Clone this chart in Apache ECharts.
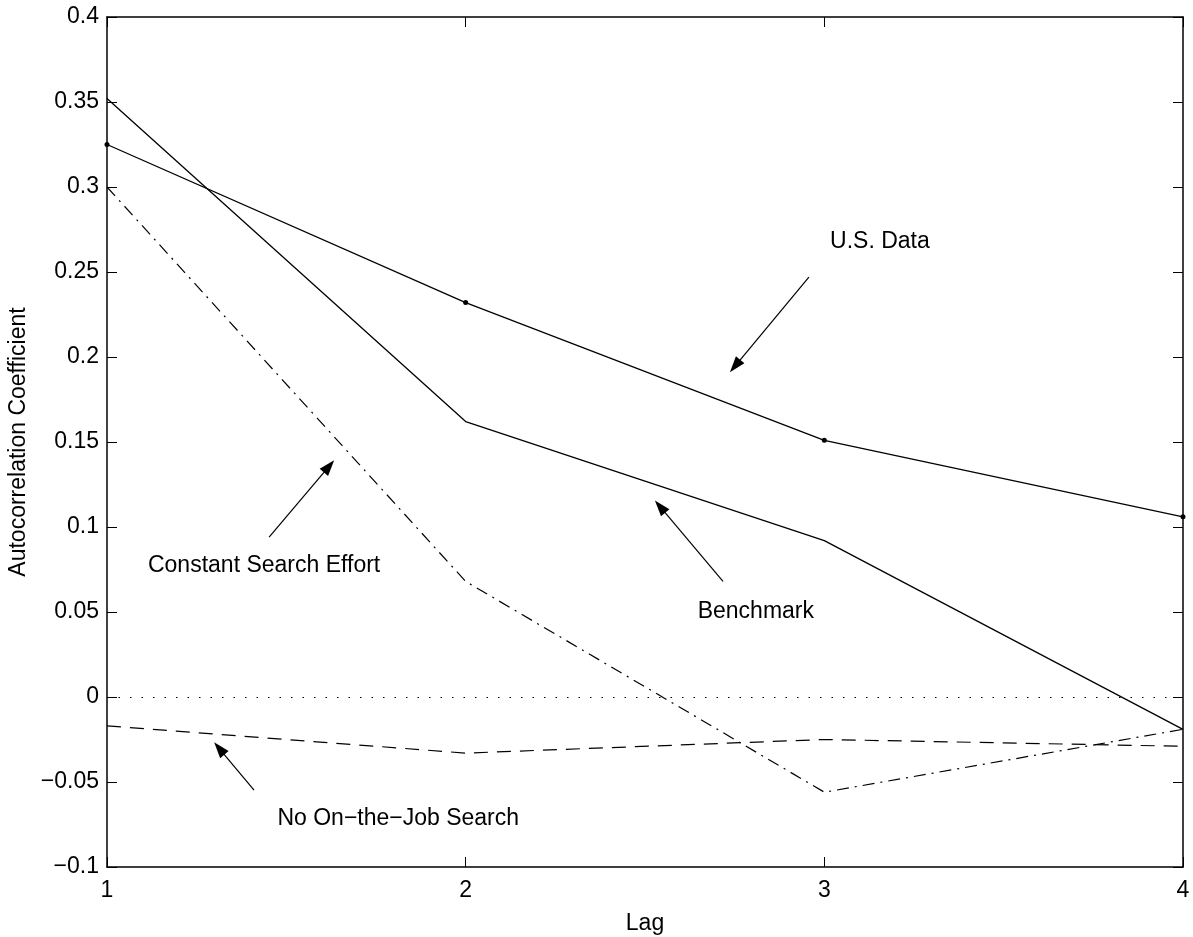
<!DOCTYPE html>
<html>
<head>
<meta charset="utf-8">
<script src="https://cdn.jsdelivr.net/npm/echarts@6/dist/echarts.min.js"></script>
<style>html,body{margin:0;padding:0;background:#fff;}#c{width:1193px;height:937px;}</style>
</head>
<body>
<div id="c"></div>
<script>
// ---- data ----
var lags = [1, 2, 3, 4];
var usData = [0.325, 0.232, 0.151, 0.106];
var benchmark = [0.352, 0.162, 0.092, -0.019];
var constantSearch = [0.300, 0.068, -0.056, -0.019];
var noOJS = [-0.017, -0.033, -0.025, -0.029];
var yTicks = [-0.1, -0.05, 0, 0.05, 0.1, 0.15, 0.2, 0.25, 0.3, 0.35, 0.4];

// annotation texts [lag, value, text]
var labelTexts = [
  [3.155, 0.268, 'U.S. Data'],
  [2.809, 0.050, 'Benchmark'],
  [1.438, 0.0775, 'Constant Search Effort'],
  [1.812, -0.0714, 'No On\u2212the\u2212Job Search']
];
// arrows [[tailLag, tailVal], [tipLag, tipVal]]
var arrows = [
  [[2.957, 0.247], [2.751, 0.1947]],
  [[2.7175, 0.068], [2.542, 0.112]],
  [[1.452, 0.094], [1.619, 0.1357]],
  [[1.41, -0.0548], [1.313, -0.0303]]
];

function pairs(ys) { return lags.map(function (x, i) { return [x, ys[i]]; }); }
var FONT = 'Liberation Sans, Arial, Helvetica, sans-serif';
var FS = 23;

var chart = echarts.init(document.getElementById('c'), null, {renderer: 'canvas'});
var axisLine = {show: true, onZero: false, lineStyle: {color: '#000', width: 1.5}};
var tick = {show: true, inside: true, length: 10, lineStyle: {color: '#000', width: 1}};

chart.setOption({
  animation: false,
  backgroundColor: '#fff',
  textStyle: {fontFamily: FONT},
  grid: {left: 107, right: 10, top: 17, bottom: 70, containLabel: false, outerBoundsMode: 'none'},
  xAxis: [{
    type: 'value', min: 1, max: 4, interval: 1, position: 'bottom',
    axisLine: axisLine, axisTick: tick, splitLine: {show: false},
    axisLabel: {color: '#000', fontSize: FS, fontFamily: FONT, margin: 12},
    name: 'Lag', nameLocation: 'middle', nameGap: 45,
    nameTextStyle: {color: '#000', fontSize: FS, fontFamily: FONT}
  }, {
    type: 'value', min: 1, max: 4, interval: 1, position: 'top',
    axisLine: axisLine, axisTick: tick, splitLine: {show: false}, axisLabel: {show: false}
  }],
  yAxis: [{
    type: 'value', min: -0.1, max: 0.4, interval: 0.05, position: 'left',
    axisLine: axisLine, axisTick: tick, splitLine: {show: false},
    axisLabel: {color: '#000', fontSize: FS, fontFamily: FONT, margin: 8,
      formatter: function (v) { return String(Math.round(v * 100) / 100).replace('-', '\u2212'); }},
    name: 'Autocorrelation Coefficient', nameLocation: 'middle', nameGap: 74, nameRotate: 90,
    nameTextStyle: {color: '#000', fontSize: FS, fontFamily: FONT}
  }, {
    type: 'value', min: -0.1, max: 0.4, interval: 0.05, position: 'right',
    axisLine: axisLine, axisTick: tick, splitLine: {show: false}, axisLabel: {show: false}
  }],
  series: [
    {
      name: 'U.S. Data', type: 'line', data: pairs(usData), clip: false,
      symbol: 'circle', symbolSize: 5, showSymbol: true,
      itemStyle: {color: '#000'}, lineStyle: {color: '#000', width: 1.3}
    },
    {
      name: 'Benchmark', type: 'line', data: pairs(benchmark), clip: false,
      symbol: 'none', lineStyle: {color: '#000', width: 1.3}
    },
    {
      name: 'Constant Search Effort', type: 'line', data: pairs(constantSearch), clip: false,
      symbol: 'none', lineStyle: {color: '#000', width: 1.2, type: [12, 6, 2, 6]}
    },
    {
      name: 'No On-the-Job Search', type: 'line', data: pairs(noOJS), clip: false,
      symbol: 'none', lineStyle: {color: '#000', width: 1.2, type: [14, 9]}
    },
    {
      name: 'zero', type: 'line', data: [], symbol: 'none',
      markLine: {
        silent: true, symbol: ['none', 'none'], label: {show: false},
        lineStyle: {color: '#000', width: 1.2, type: [1.5, 10]},
        data: [{yAxis: 0}]
      }
    },
    {
      name: 'arrows', type: 'line', data: [], symbol: 'none',
      markLine: {
        silent: true, symbol: ['none', 'triangle'], symbolSize: [11, 16],
        label: {show: false},
        lineStyle: {color: '#000', width: 1.2, type: 'solid'},
        itemStyle: {color: '#000'},
        data: arrows.map(function (a) { return [{coord: a[0]}, {coord: a[1]}]; })
      }
    },
    {
      name: 'labels', type: 'scatter', symbolSize: 0, silent: true,
      itemStyle: {opacity: 1},
      data: labelTexts,
      label: {
        show: true, position: 'inside', color: '#000', opacity: 1, fontSize: FS, fontFamily: FONT,
        align: 'center', verticalAlign: 'middle',
        formatter: function (p) { return p.data[2]; }
      }
    }
  ]
});
</script>
</body>
</html>
